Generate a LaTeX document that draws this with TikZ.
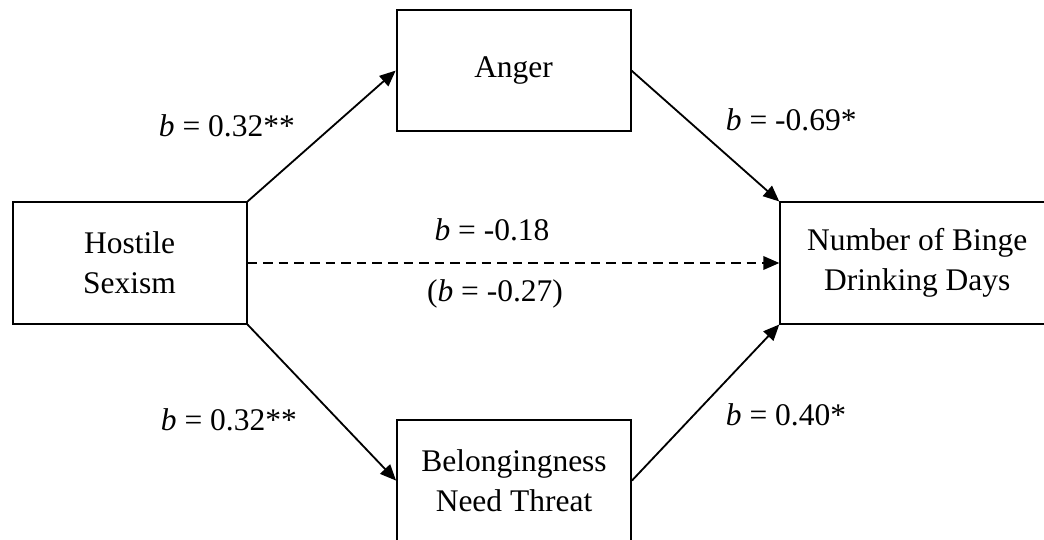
\documentclass[tikz,border=0pt]{standalone}
\usepackage{fontspec}
\setmainfont{Liberation Serif}
\usetikzlibrary{positioning,arrows.meta}

\begin{document}
\begin{tikzpicture}[->,>={Triangle[length=0.4cm,width=0.34cm]}, line width=1.3pt, on grid,
  box/.style={draw, rectangle, minimum width=5.85cm, minimum height=3.03cm, align=center, font=\fontsize{22.4}{28.5}\selectfont},
  coef/.style={inner sep=0pt, font=\fontsize{22.4}{28.5}\selectfont}]
 \useasboundingbox (0,0) rectangle (26.1,13.475);
 \node [box] (hostile) at (3.24,6.9) {Hostile\\Sexism};
  \node [box] (anger) [above right=4.81cm and 9.6cm of hostile] {Anger};
  \node [box] (belong) [below right=5.44cm and 9.61cm of hostile] {Belongingness\\Need Threat};
  \node [box, minimum width=6.85cm] (binge) [right=19.69cm of hostile] {Number of Binge\\Drinking Days};

  \path (hostile.north east) edge (anger.west);
  \path (hostile.south east) edge (belong.west);
  \path (anger.east) edge (binge.north west);
  \path (belong.east) edge (binge.south west);
  \path [dash pattern=on 0.24cm off 0.15cm] (hostile.east) edge (binge.west);

  \node [coef, anchor=base west] (bHA) at (3.95,10.05) {{\itshape b} = 0.32**};
  \node [coef, anchor=base west] (bAB) at (18.125,10.2) {{\itshape b} = -0.69*};
  \node [coef, anchor=base] (bDirect) at (12.3,7.45) {{\itshape b} = -0.18};
  \node [coef, anchor=base] (bTotal) at (12.375,5.925) {({\itshape b} = -0.27)};
  \node [coef, anchor=base west] (bHN) at (4.0,2.725) {{\itshape b} = 0.32**};
  \node [coef, anchor=base west] (bNB) at (18.125,2.85) {{\itshape b} = 0.40*};
 \end{tikzpicture}
\end{document}
